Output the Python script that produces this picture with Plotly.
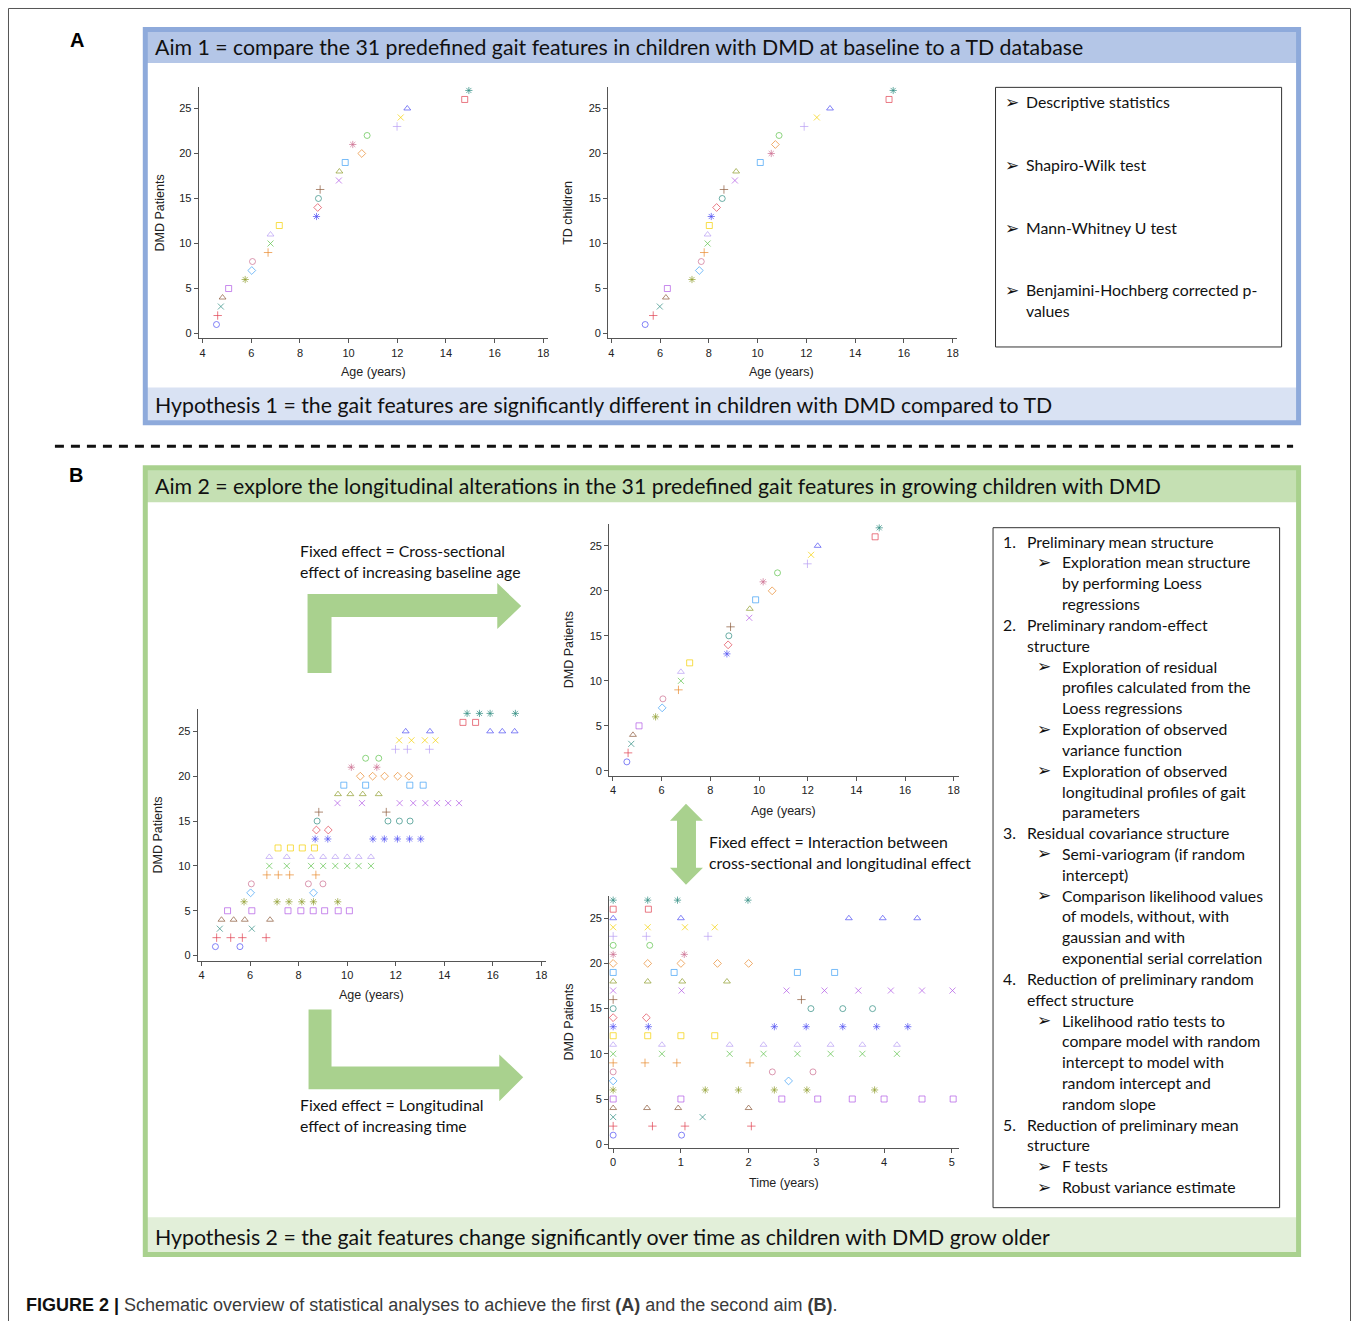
import plotly.graph_objects as go

# ---------------- DATA ----------------
patient_ids = list(range(1, 28))

# Baseline age (years) of the DMD patients (rows 1..27 on the y axis)
dmd_baseline_age = [4.57, 4.62, 4.75, 4.82, 5.07, 5.75, 6.02, 6.05, 6.69, 6.79,
                    6.79, 7.15, 8.68, 8.73, 8.76, 8.83, 9.60, 9.62, 9.86, 10.54,
                    10.17, 10.76, 11.99, 12.14, 12.41, 14.77, 14.94]

# Age (years) of the TD children
td_age = [5.39, 5.72, 5.99, 6.24, 6.30, 7.31, 7.61, 7.69, 7.81, 7.95,
          7.95, 8.02, 8.10, 8.32, 8.55, 8.62, 9.07, 9.12, 10.11, 10.56,
          10.73, 10.88, 11.91, 12.43, 12.97, 15.39, 15.56]

# Follow-up visit times (years since baseline) per DMD patient
visit_times = [
    [0, 1.01],
    [0, 0.58, 1.06, 2.04],
    [0, 1.32],
    [0, 0.50, 0.96, 2.00],
    [0, 1.00, 2.49, 3.02, 3.53, 4.00, 4.56, 5.02],
    [0, 1.36, 1.85, 2.38, 2.86, 3.86],
    [0, 2.59],
    [0, 2.35, 2.95],
    [0, 0.47, 0.94, 2.02],
    [0, 0.72, 1.72, 2.22, 2.72, 3.21, 3.68, 4.19],
    [0, 0.72, 1.72, 2.22, 2.72, 3.21, 3.68, 4.19],
    [0, 0.51, 1.00, 1.50],
    [0, 0.52, 2.38, 2.85, 3.39, 3.89, 4.35],
    [0, 0.49],
    [0, 2.92, 3.39, 3.83],
    [0, 2.78],
    [0, 1.01, 2.56, 3.12, 3.62, 4.10, 4.56, 5.01],
    [0, 0.51, 1.02, 1.68],
    [0, 0.90, 2.72, 3.27],
    [0, 0.51, 1.00, 1.54, 2.00],
    [0, 1.05],
    [0, 0.54],
    [0, 0.49, 1.40],
    [0, 0.51, 1.06, 1.50],
    [0, 1.00, 3.48, 3.98, 4.49],
    [0, 0.52],
    [0, 0.51, 0.95, 1.99],
]

age_ticks = [4, 6, 8, 10, 12, 14, 16, 18]
time_ticks = [0, 1, 2, 3, 4, 5]
patient_ticks = [0, 5, 10, 15, 20, 25]

# ---------------- STYLE ----------------
palette = ["#4f4ff2", "#e04050", "#2e8b80", "#8c5a3a", "#b059e6", "#8e9c2c",
           "#3fa0f5", "#cc6e90", "#e8892c", "#5cc24a", "#b89ef3", "#f3d000"]
symbols = ["circle-open", "cross-thin-open", "x-thin-open", "triangle-up-open",
           "square-open", "asterisk-open", "diamond-open"]
sizes = {"circle-open": 6, "cross-thin-open": 6, "x-thin-open": 6,
         "triangle-up-open": 6, "square-open": 6, "asterisk-open": 6,
         "diamond-open": 6}
# style index of each DMD row / TD row
dmd_style = list(range(19)) + [20, 19] + list(range(21, 27))
td_style = list(range(27))

W, H = 1357, 1321


def X(px):
    return px / W


def Y(py):
    return 1 - py / H


FONT_TXT = "Lato, 'DejaVu Sans', sans-serif"
FONT_AX = "'Liberation Sans', Arial, sans-serif"

fig = go.Figure()

# subplot geometry in pixels: (left, right, top, bottom, xrange, yrange)
subplots = {
    1: (199, 549, 87, 339, [3.84, 18.2], [-0.55, 27.4]),   # A left
    2: (609, 958, 87, 339, [3.87, 18.16], [-0.55, 27.4]),  # A middle
    3: (610, 960, 525, 777, [3.84, 18.2], [-0.55, 27.4]),  # B top right
    4: (198, 547, 710, 962, [3.84, 18.2], [-0.55, 27.5]),  # B left
    5: (610, 960, 897, 1150, [-0.06, 5.1], [-0.45, 27.5]), # B bottom
}

layout_axes = {}
for i, (l, r, t, b, xr, yr) in subplots.items():
    xs = "xaxis" if i == 1 else f"xaxis{i}"
    ys = "yaxis" if i == 1 else f"yaxis{i}"
    common = dict(showline=True, linecolor="#555", linewidth=1, ticks="outside",
                  ticklen=4, tickcolor="#555", showgrid=False, zeroline=False,
                  tickfont=dict(family=FONT_AX, size=11, color="#222"),
                  fixedrange=True)
    layout_axes[xs] = dict(domain=[X(l), X(r)], range=xr,
                           anchor="y" if i == 1 else f"y{i}",
                           tickvals=time_ticks if i == 5 else age_ticks, **common)
    layout_axes[ys] = dict(domain=[Y(b), Y(t)], range=yr,
                           anchor="x" if i == 1 else f"x{i}",
                           tickvals=patient_ticks, **common)


def add_points(i, xs, ys, styles):
    cols = [palette[s % 12] for s in styles]
    syms = [symbols[s % 7] for s in styles]
    sz = [sizes[s] for s in syms]
    fig.add_trace(go.Scatter(
        x=xs, y=ys, mode="markers",
        xaxis="x" if i == 1 else f"x{i}", yaxis="y" if i == 1 else f"y{i}",
        marker=dict(symbol=syms, color=cols, size=sz,
                    line=dict(color=cols, width=1)),
        showlegend=False, hoverinfo="skip"))


# A left & B top-right: DMD baseline
add_points(1, dmd_baseline_age, patient_ids, dmd_style)
add_points(3, dmd_baseline_age, patient_ids, dmd_style)
# A middle: TD
add_points(2, td_age, patient_ids, td_style)
# B left: age at each visit (baseline age + time since baseline); B bottom: time at each visit
ages_all, times_all, ids_all, sty_all = [], [], [], []
for pid, base, times, st in zip(patient_ids, dmd_baseline_age, visit_times, dmd_style):
    for t in times:
        ages_all.append(base + t)
        times_all.append(t)
        ids_all.append(pid)
        sty_all.append(st)
add_points(4, ages_all, ids_all, sty_all)
add_points(5, times_all, ids_all, sty_all)

shapes = []
annotations = []


def rect(x0, y0, x1, y1, line=None, fill=None, lw=1, layer="below"):
    shapes.append(dict(type="rect", xref="paper", yref="paper",
                       x0=X(x0), x1=X(x1), y0=Y(y1), y1=Y(y0),
                       line=dict(color=line or "rgba(0,0,0,0)", width=lw if line else 0),
                       fillcolor=fill or "rgba(0,0,0,0)", layer=layer))


def poly(pts, fill):
    path = "M " + " L ".join(f"{X(px):.5f},{Y(py):.5f}" for px, py in pts) + " Z"
    shapes.append(dict(type="path", xref="paper", yref="paper", path=path,
                       fillcolor=fill, line=dict(width=0), layer="below"))


def txt(s, px, py, size=15.8, xa="left", font=FONT_TXT, color="#111", angle=0):
    annotations.append(dict(text=s, x=X(px), y=Y(py), xref="paper", yref="paper",
                            xanchor=xa, yanchor="middle", showarrow=False,
                            textangle=angle,
                            font=dict(family=font, size=size, color=color)))


# outer frame
shapes.append(dict(type="path", xref="paper", yref="paper",
                   path=f"M {X(8.5)},{Y(1330)} L {X(8.5)},{Y(8.5)} L {X(1352.5)},{Y(8.5)} L {X(1352.5)},{Y(1330)}",
                   line=dict(color="#555", width=1)))

# Panel A
BLUE_B, BLUE_H, BLUE_F = "#8eaadb", "#b4c6e7", "#d9e2f3"
rect(147, 32, 1299, 63, fill=BLUE_H)
rect(147, 388, 1299, 422, fill=BLUE_F)
rect(145.5, 29.5, 1300.5, 423.5, line=BLUE_B, lw=5)
# Panel B
GREEN_B, GREEN_H, GREEN_F = "#a9d18e", "#c5e0b3", "#e2efd9"
rect(147, 470, 1299, 503, fill=GREEN_H)
rect(147, 1219, 1299, 1255, fill=GREEN_F)
rect(145.5, 468.5, 1300.5, 1256.5, line=GREEN_B, lw=5)

# dashed separator
shapes.append(dict(type="line", xref="paper", yref="paper", x0=X(55), x1=X(1295),
                   y0=Y(447), y1=Y(447), line=dict(color="#111", width=3, dash="9px,7px")))

# text boxes
rect(997, 87.5, 1283.5, 347.5, line="#333", lw=1)
rect(994.5, 528.5, 1281.5, 1209.5, line="#333", lw=1)

# arrows
ARROW = "#a9d18e"
poly([(308, 674), (308, 595), (498, 595), (498, 584), (522, 607), (498, 630),
      (498, 618), (332, 618), (332, 674)], ARROW)
poly([(309, 1011), (309, 1091), (500, 1091), (500, 1103), (524, 1079), (500, 1056),
      (500, 1068), (332, 1068), (332, 1011)], ARROW)
poly([(687, 805), (704, 822), (697, 822), (697, 869), (704, 869), (687, 886),
      (671, 869), (678, 869), (678, 822), (671, 822)], ARROW)

# panel labels
txt("<b>A</b>", 77, 40, size=20, xa="center", font=FONT_AX, color="#000")
txt("<b>B</b>", 76, 476, size=20, xa="center", font=FONT_AX, color="#000")

# headers / footers
HS = 21.3
txt("Aim 1 = compare the 31 predefined gait features in children with DMD at baseline to a TD database",
    153, 47, size=HS)
txt("Hypothesis 1 = the gait features are significantly different in children with DMD compared to TD",
    153, 406, size=HS)
txt("Aim 2 = explore the longitudinal alterations in the 31 predefined gait features in growing children with DMD",
    153, 487, size=HS)
txt("Hypothesis 2 = the gait features change significantly over time as children with DMD grow older",
    153, 1239, size=HS)

# arrow labels
txt("Fixed effect = Cross-sectional", 298, 551)
txt("effect of increasing baseline age", 298, 572)
txt("Fixed effect = Longitudinal", 298, 1106)
txt("effect of increasing time", 298, 1127)
txt("Fixed effect = Interaction between", 708, 843)
txt("cross-sectional and longitudinal effect", 708, 864)

# box A bullets
ARW = "\u27a2"
ARW_FONT = "'DejaVu Sans', sans-serif"
for s, py in [("Descriptive statistics", 102), ("Shapiro-Wilk test", 165),
              ("Mann-Whitney U test", 228), ("Benjamini-Hochberg corrected p-", 290)]:
    txt(ARW, 1004, py, size=17, font=ARW_FONT)
    txt(s, 1026, py)
txt("values", 1026, 311)

# box B list
lines_b = [
    ("1.", "Preliminary mean structure", 0),
    (ARW, "Exploration mean structure", 1),
    (None, "by performing Loess", 1),
    (None, "regressions", 1),
    ("2.", "Preliminary random-effect", 0),
    (None, "structure", 0),
    (ARW, "Exploration of residual", 1),
    (None, "profiles calculated from the", 1),
    (None, "Loess regressions", 1),
    (ARW, "Exploration of observed", 1),
    (None, "variance function", 1),
    (ARW, "Exploration of observed", 1),
    (None, "longitudinal profiles of gait", 1),
    (None, "parameters", 1),
    ("3.", "Residual covariance structure", 0),
    (ARW, "Semi-variogram (if random", 1),
    (None, "intercept)", 1),
    (ARW, "Comparison likelihood values", 1),
    (None, "of models, without, with", 1),
    (None, "gaussian and with", 1),
    (None, "exponential serial correlation", 1),
    ("4.", "Reduction of preliminary random", 0),
    (None, "effect structure", 0),
    (ARW, "Likelihood ratio tests to", 1),
    (None, "compare model with random", 1),
    (None, "intercept to model with", 1),
    (None, "random intercept and", 1),
    (None, "random slope", 1),
    ("5.", "Reduction of preliminary mean", 0),
    (None, "structure", 0),
    (ARW, "F tests", 1),
    (ARW, "Robust variance estimate", 1),
]
y0, dy = 542, 20.85
for k, (mark, s, lvl) in enumerate(lines_b):
    py = y0 + k * dy
    if lvl == 0:
        if mark:
            txt(mark, 1002, py)
        txt(s, 1027, py)
    else:
        if mark:
            txt(mark, 1037, py, size=17, font=ARW_FONT)
        txt(s, 1062, py)

# axis titles
AXT = dict(size=12.5, font=FONT_AX, color="#222", xa="center")
txt("DMD Patients", 160, 213, angle=-90, **AXT)
txt("Age (years)", 374, 373, **AXT)
txt("TD children", 569, 213, angle=-90, **AXT)
txt("Age (years)", 783, 373, **AXT)
txt("DMD Patients", 570, 651, angle=-90, **AXT)
txt("Age (years)", 785, 812, **AXT)
txt("DMD Patients", 158, 836, angle=-90, **AXT)
txt("Age (years)", 372, 997, **AXT)
txt("DMD Patients", 570, 1024, angle=-90, **AXT)
txt("Time (years)", 785, 1185, **AXT)

# caption
txt("<b>FIGURE 2 |</b> <span style='color:#3a3a3a'>Schematic overview of statistical analyses to achieve the first "
    "<b>(A)</b> and the second aim <b>(B)</b>.</span>",
    24, 1307, size=18, font="'Liberation Sans Narrow', 'Arial Narrow', 'Liberation Sans', sans-serif",
    color="#111")

fig.update_layout(width=W, height=H, autosize=False,
                  margin=dict(l=0, r=0, t=0, b=0),
                  paper_bgcolor="white", plot_bgcolor="rgba(0,0,0,0)",
                  shapes=shapes, annotations=annotations, **layout_axes)

fig.write_html("out.html", config={"displayModeBar": False},
               post_script="document.body.style.margin='0';")
